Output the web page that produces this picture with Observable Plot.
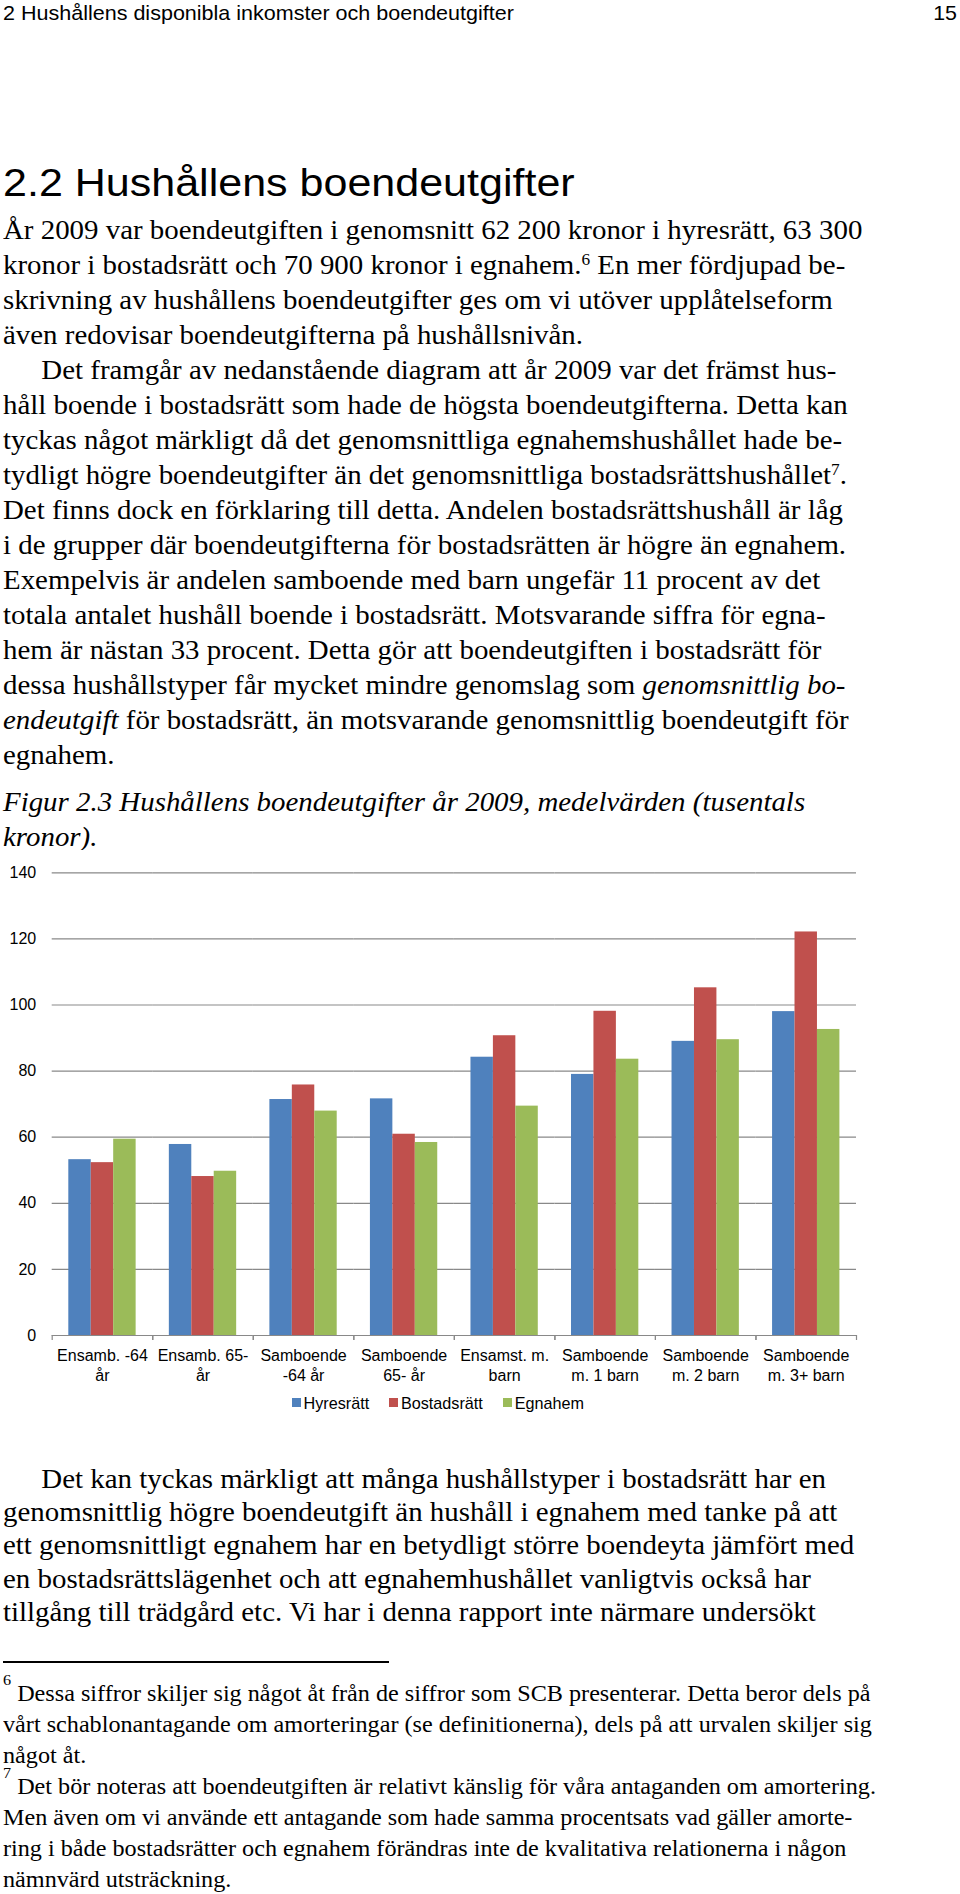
<!DOCTYPE html>
<html>
<head>
<meta charset="utf-8">
<script src="https://cdn.jsdelivr.net/npm/d3@7"></script>
<script src="https://cdn.jsdelivr.net/npm/@observablehq/plot@0.6"></script>
<style>
  html, body { margin: 0; padding: 0; background: #fff; }
  body { width: 960px; height: 1894px; position: relative; overflow: hidden; color: #000; }
  .abs { position: absolute; white-space: nowrap; }
  .sans { font-family: "Liberation Sans", Arial, sans-serif; }
  .serif { font-family: "Liberation Serif", "Times New Roman", serif; }
  .blk { position: absolute; left: 3px; transform-origin: 0 0; white-space: nowrap; }
  .blk div { white-space: nowrap; height: inherit; }
  .ind { padding-left: 35.5px; }
  sup { font-size: 0.6em; line-height: 0; vertical-align: 0; position: relative; top: -0.55em; }
  i { line-height: 0; }
  .fn sup { font-size: 15px; top: -16px; }
  #chart { position: absolute; left: 0; top: 850px; }
  #legend { position: absolute; left: 291.7px; top: 1393.8px; }
  .lg-swatches { font-family: "Liberation Sans", Arial, sans-serif !important; font-size: 16.2px !important; line-height: 18px !important; min-height: 0 !important; margin: 0 !important; color: #000 !important; }
  .lg-swatch { margin-right: 20px !important; }
  .lg-swatch > svg { margin-right: 2.8px !important; }
</style>
</head>
<body>
<div class="abs sans" style="left:3px; top:3.9px; font-size:19.8px; line-height:19.8px; transform:scaleX(1.088); transform-origin:0 0;">2 Hushållens disponibla inkomster och boendeutgifter</div>
<div class="abs sans" style="right:3px; top:3.9px; font-size:19.8px; line-height:19.8px; transform:scaleX(1.08); transform-origin:100% 0;">15</div>

<div class="abs sans" style="left:3px; top:163.1px; font-size:39.7px; line-height:39.7px; transform:scaleX(1.084); transform-origin:0 0;">2.2 Hushållens boendeutgifter</div>

<div class="blk serif" style="top:213px; font-size:26.75px; line-height:35px; transform:scaleX(1.08);">
<div>År 2009 var boendeutgiften i genomsnitt 62 200 kronor i hyresrätt, 63 300</div>
<div>kronor i bostadsrätt och 70 900 kronor i egnahem.<sup>6</sup> En mer fördjupad be-</div>
<div>skrivning av hushållens boendeutgifter ges om vi utöver upplåtelseform</div>
<div>även redovisar boendeutgifterna på hushållsnivån.</div>
<div class="ind">Det framgår av nedanstående diagram att år 2009 var det främst hus-</div>
<div>håll boende i bostadsrätt som hade de högsta boendeutgifterna. Detta kan</div>
<div>tyckas något märkligt då det genomsnittliga egnahemshushållet hade be-</div>
<div>tydligt högre boendeutgifter än det genomsnittliga bostadsrättshushållet<sup>7</sup>.</div>
<div>Det finns dock en förklaring till detta. Andelen bostadsrättshushåll är låg</div>
<div>i de grupper där boendeutgifterna för bostadsrätten är högre än egnahem.</div>
<div>Exempelvis är andelen samboende med barn ungefär 11 procent av det</div>
<div>totala antalet hushåll boende i bostadsrätt. Motsvarande siffra för egna-</div>
<div>hem är nästan 33 procent. Detta gör att boendeutgiften i bostadsrätt för</div>
<div>dessa hushållstyper får mycket mindre genomslag som <i>genomsnittlig bo-</i></div>
<div><i>endeutgift</i> för bostadsrätt, än motsvarande genomsnittlig boendeutgift för</div>
<div>egnahem.</div>
</div>

<div class="blk serif" style="top:785.2px; font-size:26.75px; line-height:35px; transform:scaleX(1.08); font-style:italic;">
<div>Figur 2.3 Hushållens boendeutgifter år 2009, medelvärden (tusentals</div>
<div>kronor).</div>
</div>

<div id="chart"></div>
<div id="legend"></div>

<div class="blk serif" style="top:1462.6px; font-size:26.75px; line-height:33.35px; transform:scaleX(1.08);">
<div class="ind">Det kan tyckas märkligt att många hushållstyper i bostadsrätt har en</div>
<div>genomsnittlig högre boendeutgift än hushåll i egnahem med tanke på att</div>
<div>ett genomsnittligt egnahem har en betydligt större boendeyta jämfört med</div>
<div>en bostadsrättslägenhet och att egnahemhushållet vanligtvis också har</div>
<div>tillgång till trädgård etc. Vi har i denna rapport inte närmare undersökt</div>
</div>

<div style="position:absolute; left:2.7px; top:1661px; width:386.5px; height:1.6px; background:#000;"></div>

<div class="blk serif fn" style="top:1678px; font-size:22.4px; line-height:31px; transform:scaleX(1.08);">
<div><sup>6</sup> Dessa siffror skiljer sig något åt från de siffror som SCB presenterar. Detta beror dels på</div>
<div>vårt schablonantagande om amorteringar (se definitionerna), dels på att urvalen skiljer sig</div>
<div>något åt.</div>
<div><sup>7</sup> Det bör noteras att boendeutgiften är relativt känslig för våra antaganden om amortering.</div>
<div>Men även om vi använde ett antagande som hade samma procentsats vad gäller amorte-</div>
<div>ring i både bostadsrätter och egnahem förändras inte de kvalitativa relationerna i någon</div>
<div>nämnvärd utsträckning.</div>
</div>

<script>
// ---- Chart data (tusentals kronor, 2009) ----
const categories = [
  "Ensamb. -64\når",
  "Ensamb. 65-\når",
  "Samboende\n-64 år",
  "Samboende\n65- år",
  "Ensamst. m.\nbarn",
  "Samboende\nm. 1 barn",
  "Samboende\nm. 2 barn",
  "Samboende\nm. 3+ barn"
];
const series = ["Hyresrätt", "Bostadsrätt", "Egnahem"];
const hyresratt   = [53.2, 57.8, 71.4, 71.6, 84.2, 79.0, 89.0, 98.0];
const bostadsratt = [52.3, 48.1, 75.8, 60.9, 90.7, 98.1, 105.2, 122.1];
const egnahem     = [59.4, 49.7, 67.9, 58.4, 69.4, 83.6, 89.5, 92.6];
const yTicks = [0, 20, 40, 60, 80, 100, 120, 140];
const colors = ["#4F81BD", "#C0504D", "#9BBB59"];

const seriesValues = [hyresratt, bostadsratt, egnahem];
const data = categories.flatMap((c, i) =>
  series.map((s, j) => ({cat: c, series: s, value: seriesValues[j][i]}))
);

const W = 960, H = 540, ML = 51.7, MR = 104;
const band = (W - ML - MR) / categories.length;
const gray = "#898989";

const chart = Plot.plot({
  width: W,
  height: H,
  marginTop: 22.3,
  marginBottom: 55,
  marginLeft: ML,
  marginRight: MR,
  style: {fontFamily: "'Liberation Sans', Arial, sans-serif", fontSize: "16px", color: "#000", background: "#fff", overflow: "visible"},
  fx: {domain: categories, padding: 0, round: false, label: null},
  x: {domain: series, paddingInner: 0, paddingOuter: 0.74, round: false, axis: null},
  y: {domain: [0, 140], label: null},
  color: {domain: series, range: colors},
  marks: [
    Plot.gridY(yTicks, {stroke: gray, strokeOpacity: 1, strokeWidth: 1.2}),
    Plot.barY(data, {fx: "cat", x: "series", y: "value", fill: "series"}),
    Plot.axisY({ticks: yTicks, tickSize: 0, tickPadding: 16, label: null, fontSize: 16}),
    Plot.axisFx({anchor: "bottom", tickSize: 0, tickPadding: 10.5, lineHeight: 1.28, fontSize: 16, label: null}),
    Plot.axisFx({anchor: "bottom", tickSize: 5, tickFormat: () => "", stroke: gray, strokeWidth: 1.2, dx: -band / 2, label: null}),
    Plot.axisFx([categories[categories.length - 1]], {anchor: "bottom", tickSize: 5, tickFormat: () => "", stroke: gray, strokeWidth: 1.2, dx: band / 2, label: null})
  ]
});
document.getElementById("chart").appendChild(chart);

const legend = Plot.legend({
  color: {domain: series, range: colors},
  swatchSize: 9,
  className: "lg"
});
document.getElementById("legend").appendChild(legend);
</script>
</body>
</html>
